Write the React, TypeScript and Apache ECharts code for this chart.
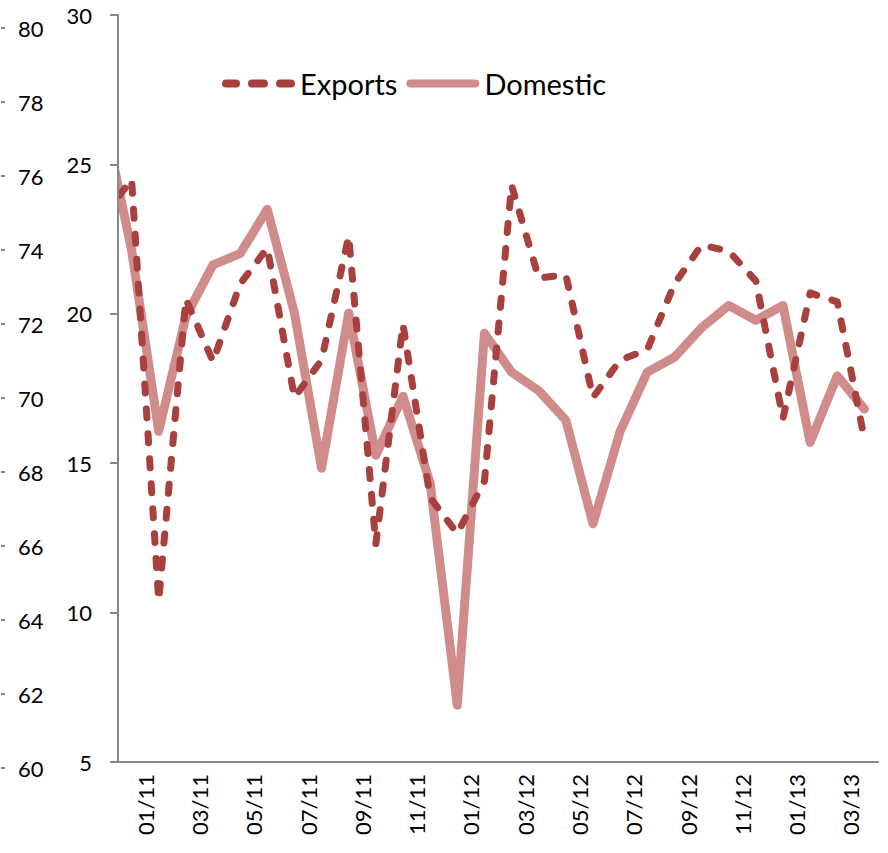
import React, { useEffect, useRef } from "react";
import * as echarts from "echarts";

const months = [
  "12/10",
  "01/11", "02/11", "03/11", "04/11", "05/11", "06/11", "07/11", "08/11", "09/11", "10/11", "11/11", "12/11",
  "01/12", "02/12", "03/12", "04/12", "05/12", "06/12", "07/12", "08/12", "09/12", "10/12", "11/12", "12/12",
  "01/13", "02/13", "03/13", "04/13",
];
const tickLabels = [
  "01/11", "03/11", "05/11", "07/11", "09/11", "11/11",
  "01/12", "03/12", "05/12", "07/12", "09/12", "11/12",
  "01/13", "03/13",
];
const exportsValues = [
  23.3,
  24.5, 10.4, 20.5, 18.4, 21.0, 22.2, 17.2, 18.45, 22.6, 12.3, 19.65, 13.85,
  12.65, 14.4, 24.3, 21.2, 21.3, 17.2, 18.45, 18.8, 21.0, 22.3, 22.1, 21.1,
  16.5, 20.7, 20.4, 15.8,
];
const domesticValues = [
  77.5,
  74.0, 69.1, 72.2, 73.6, 73.9, 75.1, 72.3, 68.1, 72.3, 68.45, 70.05, 67.7,
  61.7, 71.75, 70.7, 70.2, 69.4, 66.6, 69.1, 70.7, 71.1, 71.9, 72.5, 72.1,
  72.5, 68.8, 70.6, 69.7,
];

const FONT = "Lato, 'Open Sans', sans-serif";
const AXIS_GREY = "#878787";
const EXPORTS_COLOR = "#A8403E";
const DOMESTIC_COLOR = "#D08C8B";

const cap = (x0: number, x1: number) =>
  `M${x0 + 4},0 H${x1 - 4} A4,4 0 0 1 ${x1 - 4},8 H${x0 + 4} A4,4 0 0 1 ${x0 + 4},0 Z`;
const EXPORTS_ICON = "path://" + cap(0, 18) + " " + cap(26, 46) + " " + cap(54, 73);
const DOMESTIC_ICON = "path://" + cap(0, 73);

export default function App() {
  const ref = useRef<HTMLDivElement>(null);
  useEffect(() => {
    if (!ref.current) return;
    const chart = echarts.init(ref.current, null, { renderer: "svg" });
    const toXY = (vals: number[]) => vals.map((v, i) => [i - 1, v]);
    chart.setOption({
      animation: false,
      backgroundColor: "#ffffff",
      grid: [
        { left: 118, right: 10, top: 15, bottom: 91 },
        { left: 118, right: 10, top: 28, bottom: 85 },
      ],
      legend: {
        left: 217,
        top: 64,
        itemWidth: 73,
        itemHeight: 8,
        itemGap: 9,
        textStyle: { fontFamily: FONT, fontSize: 29, color: "#000" },
        data: [
          { name: "Exports", icon: EXPORTS_ICON, itemStyle: { color: EXPORTS_COLOR } },
          { name: "Domestic", icon: DOMESTIC_ICON, itemStyle: { color: DOMESTIC_COLOR } },
        ],
      },
      graphic: [
        {
          type: "rect",
          z: 5,
          shape: { x: 100, y: 0, width: 17, height: 770 },
          style: { fill: "#ffffff" },
        },
      ],
      xAxis: [
        {
          type: "value",
          gridIndex: 0,
          min: -0.5,
          max: months.length - 1.5,
          show: false,
        },
        {
          type: "category",
          gridIndex: 0,
          position: "bottom",
          data: tickLabels,
          boundaryGap: true,
          z: 10,
          axisLine: { onZero: false, lineStyle: { color: AXIS_GREY, width: 2 } },
          axisTick: { length: 8, lineStyle: { color: AXIS_GREY, width: 2 } },
          axisLabel: {
            rotate: 90,
            margin: 12,
            fontFamily: FONT,
            fontSize: 22,
            color: "#000",
            interval: 0,
          },
          splitLine: { show: false },
        },
        {
          type: "value",
          gridIndex: 1,
          min: -0.5,
          max: months.length - 1.5,
          show: false,
        },
      ],
      yAxis: [
        {
          type: "value",
          gridIndex: 0,
          min: 5,
          max: 30,
          interval: 5,
          position: "left",
          z: 10,
          axisLine: { show: true, onZero: false, lineStyle: { color: AXIS_GREY, width: 2 } },
          axisTick: { show: true, length: 8, lineStyle: { color: AXIS_GREY, width: 2 } },
          axisLabel: { margin: 26, fontFamily: FONT, fontSize: 22, color: "#000" },
          splitLine: { show: false },
        },
        {
          type: "value",
          gridIndex: 1,
          min: 60,
          max: 80,
          interval: 2,
          position: "left",
          offset: 117,
          z: 10,
          axisLine: { show: false, onZero: false },
          axisTick: { show: true, inside: true, length: 4, lineStyle: { color: AXIS_GREY, width: 2 } },
          axisLabel: { inside: true, margin: 17, fontFamily: FONT, fontSize: 22, color: "#000" },
          splitLine: { show: false },
        },
      ],
      series: [
        {
          name: "Exports",
          type: "line",
          xAxisIndex: 0,
          yAxisIndex: 0,
          data: toXY(exportsValues),
          symbol: "none",
          clip: true,
          color: EXPORTS_COLOR,
          lineStyle: {
            color: EXPORTS_COLOR,
            width: 7,
            type: [9, 16],
            cap: "round",
            join: "round",
          },
          z: 3,
        },
        {
          name: "Domestic",
          type: "line",
          xAxisIndex: 2,
          yAxisIndex: 1,
          data: toXY(domesticValues),
          symbol: "none",
          clip: true,
          color: DOMESTIC_COLOR,
          lineStyle: {
            color: DOMESTIC_COLOR,
            width: 9,
            cap: "round",
            join: "round",
          },
          z: 2,
        },
      ],
    });
    return () => chart.dispose();
  }, []);
  return <div ref={ref} style={{ width: 888, height: 853, position: "absolute", left: 0, top: 0 }} />;
}
